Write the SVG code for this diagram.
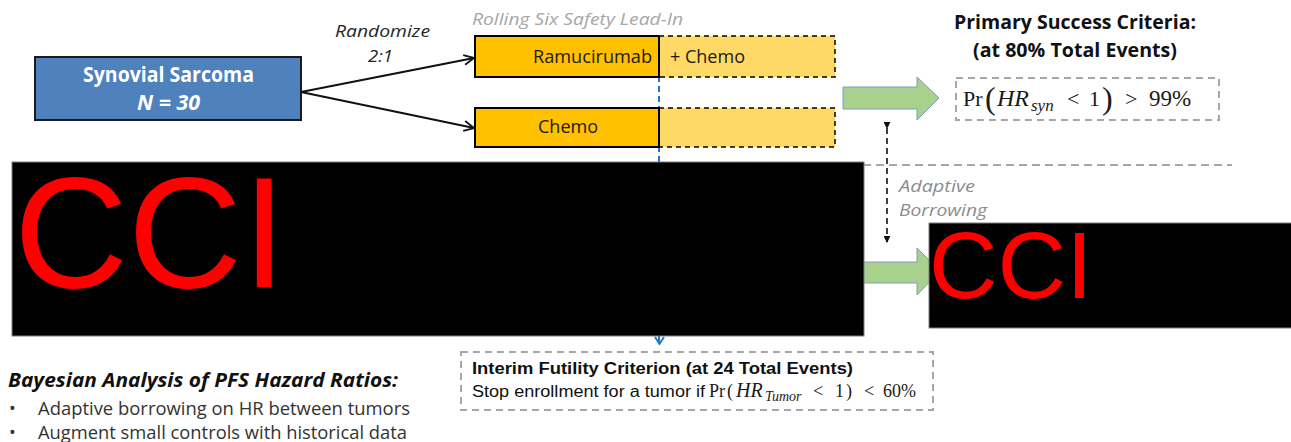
<svg xmlns="http://www.w3.org/2000/svg" width="1291" height="442" viewBox="0 0 1291 442">
  <defs>
    <style>
      .ui { font-family: "Open Sans", "Liberation Sans", sans-serif; }
      .ar { font-family: "Liberation Sans", Arial, sans-serif; }
      .mt { font-family: "Liberation Serif", "Times New Roman", serif; fill: #1a1a1a; }
      .it { font-style: italic; }
      .bd { font-weight: bold; }
      .note { fill: #a6a6a6; }
      .crit { fill: none; stroke: #a6a6a6; stroke-width: 2; stroke-dasharray: 7 5; }
      .arm { fill: #ffc000; stroke: #000; stroke-width: 2; }
      .ext { fill: #ffd966; stroke: #000; stroke-width: 1.5; stroke-dasharray: 5 4; }
      .flow { fill: #a9d18e; stroke: #7f9cc0; stroke-width: 1; }
      .redact { fill: #000; stroke: #7f7f7f; stroke-width: 1; }
      .cci { font-family: "Liberation Sans", Arial, sans-serif; fill: #ff0000; }
    </style>
    <marker id="open-head" viewBox="0 0 12 12" refX="11" refY="6" markerWidth="12" markerHeight="12" markerUnits="userSpaceOnUse" orient="auto">
      <path d="M1,1 L11,6 L1,11" fill="none" stroke="#111" stroke-width="1.8"/>
    </marker>
    <marker id="small-head" viewBox="0 0 8 8" refX="7" refY="4" markerWidth="7" markerHeight="7" markerUnits="userSpaceOnUse" orient="auto">
      <path d="M0,0 L8,4 L0,8 Z" fill="#111"/>
    </marker>
  </defs>

  <rect width="1291" height="442" fill="#ffffff"/>

  <!-- connectors -->
  <g id="connectors">
    <path d="M301,92 L474,58" fill="none" stroke="#111" stroke-width="2" marker-end="url(#open-head)"/>
    <path d="M301,92 L474,128" fill="none" stroke="#111" stroke-width="2" marker-end="url(#open-head)"/>
    <!-- safety lead-in boundary -->
    <line x1="659" y1="36" x2="659" y2="343" stroke="#1f78c8" stroke-width="2" stroke-dasharray="6 4"/>
    <path d="M655,337 L659.5,344 L664,337" fill="none" stroke="#1f78c8" stroke-width="2"/>
    <!-- divider between tumour cohorts -->
    <line x1="850" y1="165" x2="1232" y2="165" stroke="#a6a6a6" stroke-width="2" stroke-dasharray="8 5"/>
    <!-- adaptive borrowing -->
    <line x1="887" y1="128" x2="887" y2="242" stroke="#111" stroke-width="1.6" stroke-dasharray="6 4" marker-start="url(#small-head)" marker-end="url(#small-head)"/>
    <path class="flow" d="M843,87 H917 V77 L939,98 L917,120 V109 H843 Z"/>
    <path class="flow" d="M843,262 H917 V248 L940,271 L917,295 V283 H843 Z"/>
  </g>

  <g id="synovial">
    <rect x="35" y="57" width="266" height="63" fill="#4f81bd" stroke="#1a1a1a" stroke-width="2"/>
    <text class="ui bd" x="83" y="82" font-size="21" fill="#fff" textLength="171" lengthAdjust="spacingAndGlyphs">Synovial Sarcoma</text>
    <text class="ui bd it" x="137" y="110" font-size="21" fill="#fff" textLength="63" lengthAdjust="spacingAndGlyphs">N = 30</text>
  </g>

  <g id="randomize">
    <text class="ui it" x="335" y="37" font-size="16" fill="#262626" textLength="95" lengthAdjust="spacingAndGlyphs">Randomize</text>
    <text class="ui it" x="368" y="62" font-size="16" fill="#262626" textLength="25" lengthAdjust="spacingAndGlyphs">2:1</text>
  </g>

  <g id="lead-in">
    <text class="ui it note" x="472" y="25" font-size="16" textLength="211" lengthAdjust="spacingAndGlyphs">Rolling Six Safety Lead-In</text>
  </g>

  <g id="arm-ramucirumab">
    <rect class="ext" x="659" y="36" width="176" height="41"/>
    <rect class="arm" x="475" y="36" width="184" height="41"/>
    <text class="ui" x="533" y="63" font-size="19" fill="#1a1a1a" textLength="119" lengthAdjust="spacingAndGlyphs">Ramucirumab</text>
    <text class="ui" x="670" y="63" font-size="19" fill="#1a1a1a" textLength="75" lengthAdjust="spacingAndGlyphs">+ Chemo</text>
  </g>

  <g id="arm-chemo">
    <rect class="ext" x="659" y="108" width="176" height="39"/>
    <rect class="arm" x="475" y="108" width="184" height="39"/>
    <text class="ui" x="538" y="133" font-size="19" fill="#1a1a1a" textLength="60" lengthAdjust="spacingAndGlyphs">Chemo</text>
  </g>

  <g id="primary-success">
    <text class="ui bd" x="954" y="29" font-size="19" fill="#111" textLength="242" lengthAdjust="spacingAndGlyphs">Primary Success Criteria:</text>
    <text class="ui bd" x="973" y="57" font-size="19" fill="#111" textLength="204" lengthAdjust="spacingAndGlyphs">(at 80% Total Events)</text>
    <rect class="crit" x="956" y="78" width="263" height="42"/>
    <text class="mt" y="106" font-size="22">
      <tspan x="963">Pr</tspan>
      <tspan x="985" y="109" font-size="32">(</tspan>
      <tspan x="997" y="106" font-size="24" font-style="italic">HR</tspan>
      <tspan x="1031" y="111" font-size="17" font-style="italic">syn</tspan>
      <tspan x="1067" y="106">&lt;</tspan>
      <tspan x="1089" y="106">1</tspan>
      <tspan x="1102" y="109" font-size="32">)</tspan>
      <tspan x="1125" y="106">&gt;</tspan>
      <tspan x="1149" y="106" font-size="23">99%</tspan>
    </text>
  </g>

  <g id="adaptive-borrowing">
    <text class="ui it" x="899" y="192" font-size="16" fill="#8c8c8c" textLength="76" lengthAdjust="spacingAndGlyphs">Adaptive</text>
    <text class="ui it" x="899" y="216" font-size="16" fill="#8c8c8c" textLength="88" lengthAdjust="spacingAndGlyphs">Borrowing</text>
  </g>

  <g id="interim-futility">
    <rect class="crit" x="461" y="352" width="472" height="58"/>
    <text class="ar bd" x="472" y="374" font-size="16" fill="#111" textLength="381" lengthAdjust="spacingAndGlyphs">Interim Futility Criterion (at 24 Total Events)</text>
    <text class="ar" x="472" y="397" font-size="16" fill="#111" textLength="233" lengthAdjust="spacingAndGlyphs">Stop enrollment for a tumor if</text>
    <text class="mt" y="397" font-size="18">
      <tspan x="709">Pr</tspan>
      <tspan x="727">(</tspan>
      <tspan x="736" font-size="20" font-style="italic">HR</tspan>
      <tspan x="765" y="401" font-size="14" font-style="italic">Tumor</tspan>
      <tspan x="813" y="397">&lt;</tspan>
      <tspan x="835" y="397">1</tspan>
      <tspan x="846" y="397">)</tspan>
      <tspan x="864" y="397">&lt;</tspan>
      <tspan x="883" y="397">60%</tspan>
    </text>
  </g>

  <g id="bayesian-analysis">
    <text class="ui bd it" x="8" y="387" font-size="20" fill="#111" textLength="390" lengthAdjust="spacingAndGlyphs">Bayesian Analysis of PFS Hazard Ratios:</text>
    <text class="ui" x="9" y="415" font-size="18" fill="#333">•</text>
    <text class="ui" x="38" y="415" font-size="18" fill="#333" textLength="372" lengthAdjust="spacingAndGlyphs">Adaptive borrowing on HR between tumors</text>
    <text class="ui" x="9" y="439" font-size="18" fill="#333">•</text>
    <text class="ui" x="38" y="439" font-size="18" fill="#333" textLength="369" lengthAdjust="spacingAndGlyphs">Augment small controls with historical data</text>
  </g>

  <!-- redacted panels -->
  <g id="redacted-left">
    <rect class="redact" x="12" y="162" width="852" height="174"/>
    <text class="cci" x="14" y="287" font-size="158">CCI</text>
  </g>
  <g id="redacted-right">
    <rect class="redact" x="929" y="223" width="370" height="105"/>
    <text class="cci" x="929" y="298" font-size="95">CCI</text>
  </g>
</svg>
